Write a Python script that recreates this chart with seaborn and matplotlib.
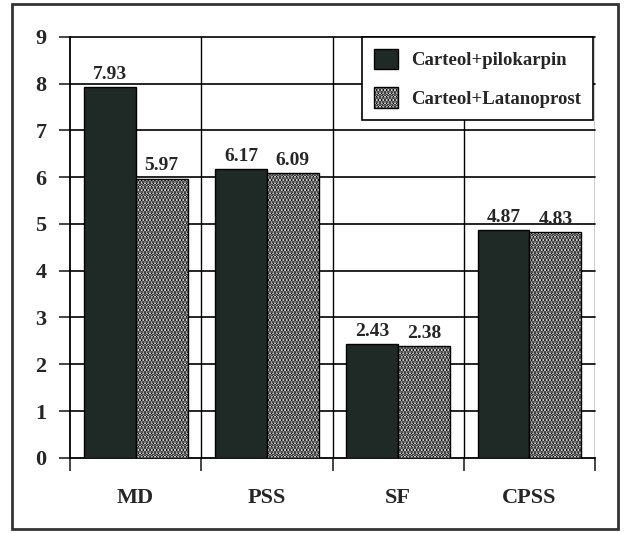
import pandas as pd
import matplotlib
matplotlib.use("Agg")
import matplotlib.pyplot as plt
import seaborn as sns
from matplotlib.patches import Rectangle
from matplotlib.ticker import FixedLocator

# データ
categories = ["MD", "PSS", "SF", "CPSS"]
series_names = ["Carteol+pilokarpin", "Carteol+Latanoprost"]
pilokarpin = [7.93, 6.17, 2.43, 4.87]
latanoprost = [5.97, 6.09, 2.38, 4.83]
y_ticks = [0, 1, 2, 3, 4, 5, 6, 7, 8, 9]

df = pd.DataFrame({
    "Kategori": categories * 2,
    "Deger": pilokarpin + latanoprost,
    "Grup": [series_names[0]] * 4 + [series_names[1]] * 4,
})

sns.set_style("white")
plt.rcParams["font.family"] = ["Liberation Serif", "DejaVu Serif"]
plt.rcParams["font.weight"] = "bold"
plt.rcParams["hatch.linewidth"] = 2.0

fig = plt.figure(figsize=(6.31, 5.33), dpi=100)
ax = fig.add_axes([0.111, 0.141, 0.832, 0.790])

palette = {series_names[0]: "#1f2a27", series_names[1]: "#ffffff"}
sns.barplot(data=df, x="Kategori", y="Deger", hue="Grup", palette=palette,
            width=0.79, edgecolor="black", linewidth=1.0, ax=ax, zorder=3,
            saturation=1)

# 2. seri: noktalı desen
for bar in ax.containers[1]:
    bar.set_hatch(".....")
    bar.set_facecolor("#ffffff")

for cont in ax.containers:
    ax.bar_label(cont, fmt="%.2f", padding=3, fontsize=14, fontweight="bold")

ax.set_ylim(0, 9)
ax.set_xlim(-0.5, 3.5)
ax.set_yticks(y_ticks)
ax.set_xlabel("")
ax.set_ylabel("")

# ızgara
for y in y_ticks[1:]:
    ax.axhline(y, color="black", linewidth=1.2, zorder=1, clip_on=False)
for x in [0.5, 1.5, 2.5, 3.5]:
    ax.axvline(x, color="black", linewidth=1.0, zorder=1)

for s in ["top", "right"]:
    ax.spines[s].set_visible(False)
for s in ["left", "bottom"]:
    ax.spines[s].set_linewidth(1.3)
    ax.spines[s].set_color("black")

ax.tick_params(axis="y", length=8, width=1.2, direction="out", labelsize=16, pad=9, left=True)
ax.tick_params(axis="x", which="major", length=0, labelsize=16, pad=22)
ax.xaxis.set_minor_locator(FixedLocator([-0.5, 0.5, 1.5, 2.5, 3.5]))
ax.tick_params(axis="x", which="minor", length=9, width=1.2, direction="out", bottom=True)
for lab in ax.get_xticklabels() + ax.get_yticklabels():
    lab.set_fontweight("bold")

leg = ax.legend(loc="upper right", fontsize=13.5, frameon=True, fancybox=False,
                edgecolor="black", framealpha=1, borderpad=0.65, labelspacing=0.95,
                handlelength=1.3, handleheight=1.3, handletextpad=0.7,
                borderaxespad=0, bbox_to_anchor=(0.997, 1.0))
leg.get_frame().set_linewidth(1.2)
for h in leg.legend_handles:
    h.set_edgecolor("black")
leg.legend_handles[1].set_hatch(".....")
for t in leg.get_texts():
    t.set_fontweight("bold")

# dış çerçeve
fig.patches.append(Rectangle((12 / 631, 4 / 533), 606 / 631, 525 / 533,
                             transform=fig.transFigure, fill=False,
                             edgecolor="#333333", linewidth=2))

fig.savefig("out.png", dpi=100)
